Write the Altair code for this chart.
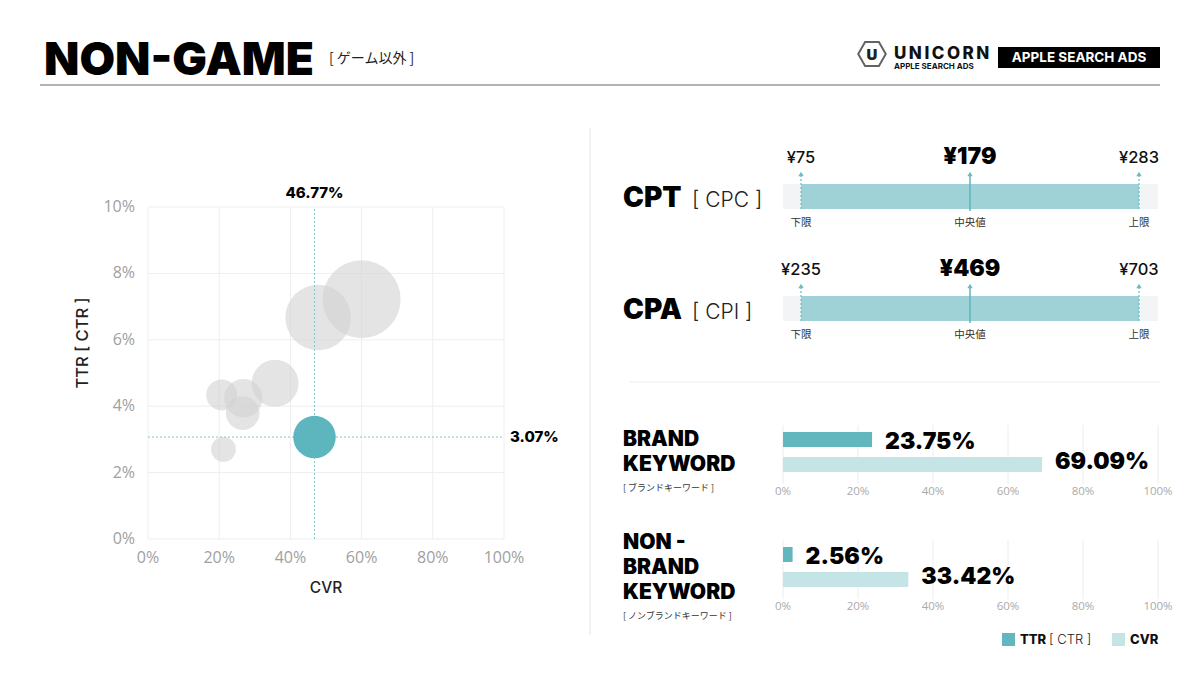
import altair as alt
import pandas as pd

# ---------------- data ----------------
bubble_cvr = [0.212, 0.207, 0.268, 0.266, 0.357, 0.478, 0.600]
bubble_ttr = [0.0270, 0.0434, 0.0424, 0.0379, 0.0469, 0.0667, 0.0722]
bubble_vol = [196, 306, 471, 361, 700, 1369, 1936]
avg_cvr = [0.4677]
avg_ttr = [0.0307]
avg_vol = [576]
x_ticks = [0, 0.2, 0.4, 0.6, 0.8, 1.0]
y_ticks = [0, 0.02, 0.04, 0.06, 0.08, 0.10]

cost_kinds = ["下限", "中央値", "上限"]
cpt_values = [75, 179, 283]
cpa_values = [235, 469, 703]

kw_metrics = ["TTR", "CVR"]
brand_values = [0.2375, 0.6909]
nonbrand_values = [0.0256, 0.3342]
bar_ticks = [0, 0.2, 0.4, 0.6, 0.8, 1.0]

# ---------------- styles ----------------
F = "Inter"
JP = "Noto Sans CJK JP"
TEAL = "#5db6bd"
TEAL_LIGHT = "#c4e4e6"
one = pd.DataFrame({"k": [0]})
L = []  # flat list of layers


def txt(s, x, y, size, weight="normal", color="#111", font=F, align="left",
        baseline="alphabetic", angle=0):
    return alt.Chart(one).mark_text(
        fontSize=size, fontWeight=weight, color=color, font=font,
        align=align, baseline=baseline, angle=angle
    ).encode(x=alt.value(x), y=alt.value(y), text=alt.value(s))


# ---------------- header ----------------
L += [
    txt("NON-GAME", 36, 67, 46, 900, "#000"),
    txt("[ ゲーム以外 ]", 321, 55, 14, "normal", "#222", JP),
    alt.Chart(one).mark_rule(color="#9a9a9a", strokeWidth=1.5).encode(
        x=alt.value(32), x2=alt.value(1152), y=alt.value(77)),
    alt.Chart(one).mark_point(
        shape="M-1,0L-0.5,-0.866L0.5,-0.866L1,0L0.5,0.866L-0.5,0.866Z",
        filled=False, stroke="#222", strokeWidth=2, size=760
    ).encode(x=alt.value(864), y=alt.value(46)),
    txt("U", 864, 47, 15, 900, "#222", align="center", baseline="middle"),
    txt("U\u2009N\u2009I\u2009C\u2009O\u2009R\u2009N", 886, 51, 17, 800, "#111"),
    txt("APPLE SEARCH ADS", 886, 61, 8, 700, "#111"),
    alt.Chart(one).mark_rect(color="#000").encode(
        x=alt.value(990), x2=alt.value(1152), y=alt.value(39), y2=alt.value(60)),
    txt("APPLE SEARCH ADS", 1071, 50, 13.5, 700, "#fff", align="center", baseline="middle"),
    alt.Chart(one).mark_rule(color="#e6e6e6").encode(
        x=alt.value(582), y=alt.value(120), y2=alt.value(627)),
    alt.Chart(one).mark_rule(color="#ececec").encode(
        x=alt.value(622), x2=alt.value(1152), y=alt.value(374)),
]

# ---------------- scatter ----------------
xs = alt.Scale(domain=[0, 1], range=[140, 496], nice=False, zero=False)
ys = alt.Scale(domain=[0, 0.10], range=[531, 199], nice=False, zero=False)
sz = alt.Scale(domain=[0, 2000], range=[0, 6283])

bub = pd.DataFrame({"cvr": bubble_cvr, "ttr": bubble_ttr, "vol": bubble_vol})
avg = pd.DataFrame({"cvr": avg_cvr, "ttr": avg_ttr, "vol": avg_vol,
                    "x0": [x_ticks[0]], "x1": [x_ticks[-1]],
                    "y0": [y_ticks[0]], "y1": [y_ticks[-1]]})
xt = pd.DataFrame({"t": x_ticks, "y0": y_ticks[0], "y1": y_ticks[-1]})
yt = pd.DataFrame({"t": y_ticks, "x0": x_ticks[0], "x1": x_ticks[-1]})


def X(f):
    return alt.X(f, scale=xs, axis=None)


def Y(f):
    return alt.Y(f, scale=ys, axis=None)


L += [
    alt.Chart(xt).mark_rule(color="#eeeeee").encode(x=X("t:Q"), y=Y("y0:Q"), y2="y1:Q"),
    alt.Chart(yt).mark_rule(color="#eeeeee").encode(y=Y("t:Q"), x=X("x0:Q"), x2="x1:Q"),
    alt.Chart(yt).mark_text(align="right", baseline="middle", dx=-13, fontSize=16,
                            color="#a0a0a0", font="Open Sans").encode(
        y=Y("t:Q"), x=X("x0:Q"), text=alt.Text("t:Q", format=".0%")),
    alt.Chart(xt).mark_text(align="center", baseline="middle", dy=19, fontSize=16,
                            color="#a0a0a0", font="Open Sans").encode(
        x=X("t:Q"), y=Y("y0:Q"), text=alt.Text("t:Q", format=".0%")),
    alt.Chart(bub).mark_circle(color="#d2d2d2", opacity=0.6).encode(
        x=X("cvr:Q"), y=Y("ttr:Q"), size=alt.Size("vol:Q", scale=sz, legend=None)),
    alt.Chart(avg).mark_rule(color="#7fc8cc", strokeDash=[2, 2]).encode(
        x=X("cvr:Q"), y=Y("y0:Q"), y2="y1:Q"),
    alt.Chart(avg).mark_rule(color="#7fc8cc", strokeDash=[2, 2]).encode(
        y=Y("ttr:Q"), x=X("x0:Q"), x2="x1:Q"),
    alt.Chart(avg).mark_circle(color=TEAL, opacity=1).encode(
        x=X("cvr:Q"), y=Y("ttr:Q"), size=alt.Size("vol:Q", scale=sz, legend=None)),
    alt.Chart(avg).mark_text(align="center", baseline="middle", dy=-14, fontSize=15,
                             fontWeight=800, color="#000", font=F).encode(
        x=X("cvr:Q"), y=Y("y1:Q"), text=alt.Text("cvr:Q", format=".2%")),
    alt.Chart(avg).mark_text(align="left", baseline="middle", dx=6, fontSize=15,
                             fontWeight=800, color="#000", font=F).encode(
        y=Y("ttr:Q"), x=X("x1:Q"), text=alt.Text("ttr:Q", format=".2%")),
    txt("CVR", 318, 580, 15.5, 500, "#222", align="center", baseline="middle"),
    txt("TTR [ CTR ]", 75, 335, 16.5, 500, "#222", align="center", baseline="middle", angle=270),
]


# ---------------- cost rows ----------------
def cost_row(values, title, sub, dy):
    lo, mid, hi = values
    df = pd.DataFrame({"v": values, "kind": cost_kinds,
                       "lab": ["¥" + str(v) for v in values]})
    span = pd.DataFrame({"lo": [lo], "hi": [hi]})
    sc = alt.Scale(domain=[lo, hi], range=[793, 1131], nice=False, zero=False)
    ends = df[df["kind"] != "中央値"]
    med = df[df["kind"] == "中央値"]

    def CX(f):
        return alt.X(f, scale=sc, axis=None)

    return [
        alt.Chart(one).mark_rect(color="#f3f4f6").encode(
            x=alt.value(775), x2=alt.value(1150), y=alt.value(176 + dy), y2=alt.value(201 + dy)),
        alt.Chart(span).mark_rect(color="#9fd2d6").encode(
            x=CX("lo:Q"), x2="hi:Q", y=alt.value(176 + dy), y2=alt.value(201 + dy)),
        alt.Chart(ends).mark_rule(color="#6cbcc2", strokeDash=[2, 2], strokeWidth=1.2).encode(
            x=CX("v:Q"), y=alt.value(167 + dy), y2=alt.value(203 + dy)),
        alt.Chart(med).mark_rule(color="#5fb3ba", strokeWidth=1.5).encode(
            x=CX("v:Q"), y=alt.value(167 + dy), y2=alt.value(203 + dy)),
        alt.Chart(df).mark_point(shape="triangle-up", filled=True, size=30, opacity=1,
                                 color="#6cbcc2").encode(x=CX("v:Q"), y=alt.value(166 + dy)),
        alt.Chart(ends).mark_text(align="center", baseline="alphabetic", fontSize=16.5,
                                  fontWeight=500, color="#111", font=F).encode(
            x=CX("v:Q"), y=alt.value(155 + dy), text="lab:N"),
        alt.Chart(med).mark_text(align="center", baseline="alphabetic", fontSize=23,
                                 fontWeight=900, color="#000", font=F).encode(
            x=CX("v:Q"), y=alt.value(156 + dy), text="lab:N"),
        alt.Chart(df).mark_text(align="center", baseline="middle", fontSize=10.5,
                                color="#333", font=JP).encode(
            x=CX("v:Q"), y=alt.value(215 + dy), text="kind:N"),
        txt(title, 615, 199 + dy, 28, 900, "#000"),
        txt(sub, 684, 199 + dy, 21, 300, "#222"),
    ]


L += cost_row(cpt_values, "CPT", "[ CPC ]", 0)
L += cost_row(cpa_values, "CPA", "[ CPI ]", 112)


# ---------------- keyword rows ----------------
def kw_row(values, lines, sub, dy, line_y):
    df = pd.DataFrame({"metric": kw_metrics, "v": values})
    tk = pd.DataFrame({"t": bar_ticks})
    sx = alt.Scale(domain=[0, 1], range=[775, 1150], nice=False)
    sy = alt.Scale(domain=kw_metrics, range=[424 + dy, 464 + dy],
                   paddingInner=0.4, paddingOuter=0)
    col = alt.Color("metric:N", scale=alt.Scale(domain=kw_metrics,
                                                range=["#62b7be", TEAL_LIGHT]), legend=None)
    layers = [
        alt.Chart(tk).mark_rule(color="#ececec").encode(
            x=alt.X("t:Q", scale=sx, axis=None), y=alt.value(417 + dy), y2=alt.value(476 + dy)),
        alt.Chart(tk).mark_text(align="center", baseline="middle", fontSize=11.5,
                                color="#aaaaaa", font="Open Sans").encode(
            x=alt.X("t:Q", scale=sx, axis=None), y=alt.value(484 + dy),
            text=alt.Text("t:Q", format=".0%")),
        alt.Chart(df).mark_bar().encode(
            x=alt.X("v:Q", scale=sx, axis=None), y=alt.Y("metric:N", scale=sy, axis=None),
            color=col),
        alt.Chart(df).mark_text(align="left", baseline="middle", dx=13, fontSize=23,
                                fontWeight=900, color="#000", font=F).encode(
            x=alt.X("v:Q", scale=sx, axis=None), y=alt.Y("metric:N", scale=sy, axis=None),
            text=alt.Text("v:Q", format=".2%")),
    ]
    for s, yy in zip(lines, line_y):
        layers.append(txt(s, 615, yy, 21, 900, "#000"))
    layers.append(txt(sub, 615, line_y[-1] + 17, 9, "normal", "#333", JP, baseline="middle"))
    return layers


L += kw_row(brand_values, ["BRAND", "KEYWORD"], "[ ブランドキーワード ]", 0, [438, 463])
L += kw_row(nonbrand_values, ["NON -", "BRAND", "KEYWORD"], "[ ノンブランドキーワード ]",
            115, [541, 566, 591])

# ---------------- legend ----------------
L += [
    alt.Chart(one).mark_rect(color="#62b7be").encode(
        x=alt.value(994), x2=alt.value(1007), y=alt.value(625), y2=alt.value(638)),
    txt("TTR", 1012, 636, 13, 800, "#111"),
    txt("[ CTR ]", 1041, 636, 13, 300, "#222"),
    alt.Chart(one).mark_rect(color=TEAL_LIGHT).encode(
        x=alt.value(1104), x2=alt.value(1117), y=alt.value(625), y2=alt.value(638)),
    txt("CVR", 1122, 636, 13, 800, "#111"),
]

chart = alt.layer(*L).resolve_scale(
    x="independent", y="independent"
).properties(
    width=1184, height=659, padding=0,
    autosize=alt.AutoSizeParams(type="none"),
    background="#ffffff",
).configure_view(strokeWidth=0)

chart.save("out.html", embed_options={"renderer": "svg", "actions": False})
